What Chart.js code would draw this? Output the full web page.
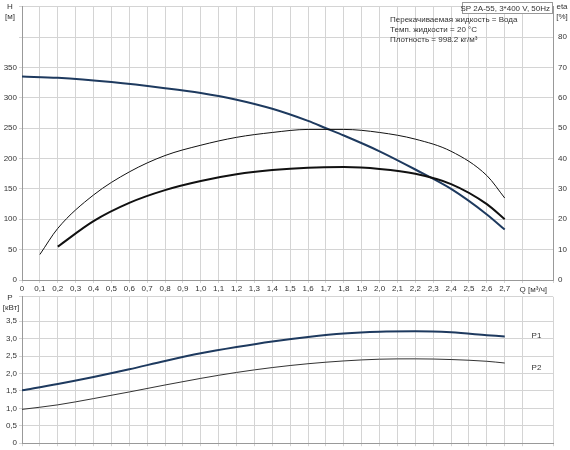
<!DOCTYPE html><html><head><meta charset="utf-8">
<script src="https://cdn.jsdelivr.net/npm/chart.js@4"></script>
<style>body{margin:0;background:#fff}canvas{position:absolute;left:0}</style></head><body>
<div style="position:absolute;left:0;top:0;width:570px;height:300px"><canvas id="c1"></canvas></div>
<div style="position:absolute;left:0;top:290px;width:570px;height:160px"><canvas id="c2"></canvas></div>
<script>
const qH = [0,0.2,0.5,0.8,1.0,1.2,1.4,1.6,1.7,1.8,2.0,2.2,2.4,2.6,2.7];
const H = [335,333,326,316,308,297,282,262,250,238,212,182,150,108,83];
const qE = [0.1,0.2,0.4,0.6,0.8,1.0,1.2,1.4,1.6,1.8,2.0,2.2,2.4,2.6,2.7];
const etaThin = [8.4,17,28,35.6,41,44.4,47,48.6,49.6,49.6,48.6,46.4,42.4,34.4,27];
const qE2 = [0.2,0.4,0.6,0.8,1.0,1.2,1.4,1.6,1.8,2.0,2.2,2.4,2.6,2.7];
const etaThick = [11,19.4,25.4,29.6,32.6,34.8,36.2,37,37.2,36.6,35,31.6,25,20];
const qP = [0,0.2,0.4,0.6,0.8,1.0,1.2,1.4,1.6,1.8,2.0,2.2,2.4,2.6,2.7];
const P1 = [1.52,1.7,1.9,2.12,2.36,2.58,2.76,2.92,3.05,3.15,3.2,3.21,3.18,3.1,3.06];
const P2 = [0.97,1.1,1.28,1.47,1.67,1.86,2.03,2.17,2.28,2.36,2.41,2.42,2.4,2.35,2.3];
const pts=(x,y)=>x.map((v,i)=>({x:v,y:y[i]}));
const F={family:'Arial, Liberation Sans',size:8};
const grid={color:'#d4d4d4',lineWidth:1,tickLength:3};
const border={color:'#999'};
const fmt=v=>(Math.round(v*10)/10).toFixed(1).replace('.',',');
const xScale=(show)=>({type:'linear',min:0,max:2.97,grid,border,
  ticks:{display:show,stepSize:0.1,font:F,color:'#333',padding:1,maxRotation:0,autoSkip:false,
   callback:v=>v>2.75?'':(Math.abs(v)<1e-6?'0':fmt(v))},
  afterFit:s=>{s.height=show?20:4}});
const ds=(d,c,w,ax)=>({data:d,borderColor:c,borderWidth:w,pointRadius:0,fill:false,yAxisID:ax,cubicInterpolationMode:'monotone'});
const txt={id:'t',afterDraw(ch){const c=ch.ctx;c.save();c.font='8px Arial';c.fillStyle='#333';
 const a=ch.chartArea;
 if(ch.canvas.id==='c1'){
  c.textAlign='center';c.fillText('H',10,9);c.fillText('[м]',10,19);
  c.fillText('eta',562,9);c.fillText('[%]',562,19);
  c.fillText('Q [м³/ч]',ch.scales.x.getPixelForValue(2.86),a.bottom+12);
  c.textAlign='left';c.fillText('Перекачиваемая жидкость = Вода',390,22);
  c.fillText('Темп. жидкости = 20 °C',390,32);c.fillText('Плотность = 998.2 кг/м³',390,42);
  c.fillStyle='#fff';c.fillRect(462,2,90,12);c.strokeStyle='#999';c.strokeRect(462.5,2.5,90,11);
  c.fillStyle='#333';c.textAlign='right';c.fillText('SP 2A-55, 3*400 V, 50Hz',550,11);
 } else {
  c.textAlign='center';c.fillText('P',10,10);c.fillText('[кВт]',11,20);
  c.textAlign='left';const x=ch.scales.x.getPixelForValue(2.85);
  c.fillText('P1',x,ch.scales.y.getPixelForValue(3.1)+3);c.fillText('P2',x,ch.scales.y.getPixelForValue(2.2)+3);
 }
 c.restore();}};
new Chart(document.getElementById('c1'),{type:'line',plugins:[txt],
 data:{datasets:[ds(pts(qE,etaThin),'#111',1,'y2'),ds(pts(qE2,etaThick),'#111',2,'y2'),ds(pts(qH,H),'#1e3a5f',2,'y')]},
 options:{animation:false,responsive:true,maintainAspectRatio:false,layout:{padding:{top:2,right:0,left:0}},
  plugins:{legend:{display:false},tooltip:{enabled:false}},
  scales:{x:xScale(true),
   y:{min:0,max:450,grid,border,ticks:{stepSize:50,font:F,color:'#333',padding:2,callback:v=>v>350?'':v},afterFit:s=>{s.width=22}},
   y2:{position:'right',min:0,max:90,grid:{display:false,tickLength:3},border,ticks:{stepSize:10,font:F,color:'#333',padding:2,callback:v=>v>80?'':v},afterFit:s=>{s.width=17}}}}});
new Chart(document.getElementById('c2'),{type:'line',plugins:[txt],
 data:{datasets:[ds(pts(qP,P1),'#1e3a5f',2,'y'),ds(pts(qP,P2),'#333',1,'y')]},
 options:{animation:false,responsive:true,maintainAspectRatio:false,layout:{padding:{top:6,right:17}},
  plugins:{legend:{display:false},tooltip:{enabled:false}},
  scales:{x:xScale(false),
   y:{min:0,max:4.2,grid,border,ticks:{stepSize:0.5,font:F,color:'#333',padding:2,callback:v=>v>3.6?'':(v===0?'0':fmt(v))},afterFit:s=>{s.width=22}}}}});
</script></body></html>
